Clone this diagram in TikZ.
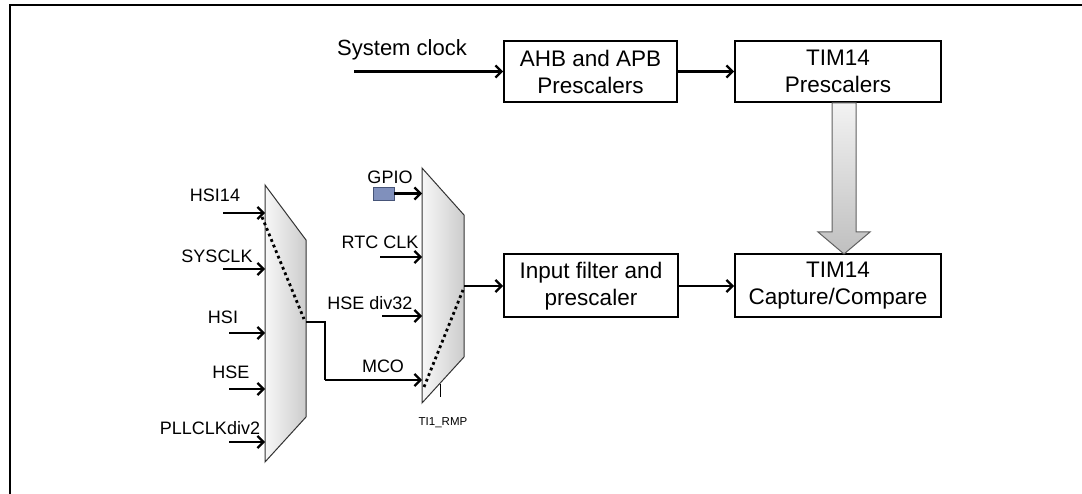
\documentclass[tikz,border=0pt]{standalone}
\usepackage{fontspec}
\setmainfont{Liberation Sans}
\usetikzlibrary{arrows.meta,calc}
\definecolor{gpioblue}{RGB}{128,144,188}
\definecolor{gpioedge}{RGB}{70,84,120}
\tikzset{
  blk/.style={draw, line width=2pt, inner sep=0pt, align=center,
    font=\fontsize{22.5}{27}\selectfont},
  arr/.style={line width=2.2pt, -{Straight Barb[length=6pt,width=12pt]}},
  wire/.style={line width=2.2pt},
  lbl/.style={inner sep=0pt, font=\fontsize{18}{21}\selectfont},
  muxshape/.style={draw=black!80, line width=1pt, left color=gray!6, right color=gray!40},
  sel/.style={line width=2.8pt, dash pattern=on 2.8pt off 3.2pt},
}
\begin{document}
\begin{tikzpicture}[x=1pt,y=-1pt]
\useasboundingbox (0,0) rectangle (1082,494);
% frame
\draw[line width=2.6pt] (10,494) -- (10,5) -- (1082,5);

% top row
\node[blk, minimum width=173pt, minimum height=61pt] (ahb) at (590.5,71.5) {AHB and APB\\Prescalers};
\node[blk, minimum width=206pt, minimum height=61pt] (tp) at (838,71.5) {TIM14\\Prescalers};
\node[inner sep=0pt, font=\fontsize{22}{26}\selectfont] (sysl) at (402,50) {System clock};
\coordinate (sysin) at (354,71.5);
\draw[arr] (sysin) -- (ahb.west);
\draw[arr] (ahb.east) -- (tp.west);

% bottom row
\node[blk, minimum width=174pt, minimum height=63pt] (flt) at (591,286) {Input filter and\\prescaler};
\node[blk, minimum width=206pt, minimum height=63pt] (cc) at (838,286) {TIM14\\Capture/Compare};
\draw[arr] (flt.east) -- (cc.west);

% big arrow
\shade[top color=gray!10, bottom color=gray!50, draw=gray!75!black, line width=1pt]
  (832,103) -- (856,103) -- (856,232) -- (870,232) -- (844,254) -- (818,232) -- (832,232) -- cycle;

% left mux
\coordinate (m1a) at (265,185);
\coordinate (m1b) at (306,240);
\coordinate (m1c) at (306,417);
\coordinate (m1d) at (265,462);
\path[muxshape] (m1a) -- (m1b) -- (m1c) -- (m1d) -- cycle;

\coordinate (i1s) at (223,213); \coordinate (i1e) at (265,213);
\coordinate (i2s) at (223,269); \coordinate (i2e) at (265,269);
\coordinate (i3s) at (229,333); \coordinate (i3e) at (265,333);
\coordinate (i4s) at (229,389); \coordinate (i4e) at (265,389);
\coordinate (i5s) at (229,442); \coordinate (i5e) at (265,442);
\draw[arr] (i1s) -- (i1e);
\draw[arr] (i2s) -- (i2e);
\draw[arr] (i3s) -- (i3e);
\draw[arr] (i4s) -- (i4e);
\draw[arr] (i5s) -- (i5e);
\node[lbl] (l1) at (215,195) {HSI14};
\node[lbl] (l2) at (217,256) {SYSCLK};
\node[lbl] (l3) at (223,317) {HSI};
\node[lbl] (l4) at (231,372) {HSE};
\node[lbl] (l5) at (210,428) {PLLCLKdiv2};

\coordinate (s1a) at (262,217);
\coordinate (s1b) at (304,319);
\draw[sel] (s1a) -- (s1b);

\coordinate (m1out) at (306,322);
\coordinate (k1) at (325,322);
\coordinate (k2) at (325,380);
\coordinate (mcoin) at (422,380);
\draw[wire] (m1out) -- (k1) -- (k2);
\draw[arr] (k2) -- (mcoin);

% middle mux
\coordinate (m2a) at (422,168);
\coordinate (m2b) at (464,215);
\coordinate (m2c) at (464,357);
\coordinate (m2d) at (422,403);
\path[muxshape] (m2a) -- (m2b) -- (m2c) -- (m2d) -- cycle;

\node[draw=gpioedge, fill=gpioblue, line width=0.8pt, minimum width=21pt, minimum height=13pt, inner sep=0pt] (gpio) at (383.5,193.5) {};
\coordinate (g1e) at (422,193.5);
\draw[arr] (gpio.east) -- (g1e);
\node[lbl] (lg) at (390,177) {GPIO};

\coordinate (r1s) at (380,257); \coordinate (r1e) at (422,257);
\draw[arr] (r1s) -- (r1e);
\node[lbl] (lr) at (380,242) {RTC CLK};

\coordinate (h1s) at (382,316); \coordinate (h1e) at (422,316);
\draw[arr] (h1s) -- (h1e);
\node[lbl] (lh) at (370,303) {HSE div32};

\node[lbl] (lm) at (383,366) {MCO};

\coordinate (s2a) at (424,387);
\coordinate (s2b) at (463,290);
\draw[sel] (s2a) -- (s2b);

\coordinate (tk1) at (440,384);
\coordinate (tk2) at (440,397);
\draw[line width=0.9pt] (tk1) -- (tk2);
\node[inner sep=0pt, font=\fontsize{11.5}{13}\selectfont] (rmp) at (443,423) {TI1\_RMP};

\coordinate (m2out) at (464,286);
\draw[arr] (m2out) -- (flt.west);
\end{tikzpicture}
\end{document}
